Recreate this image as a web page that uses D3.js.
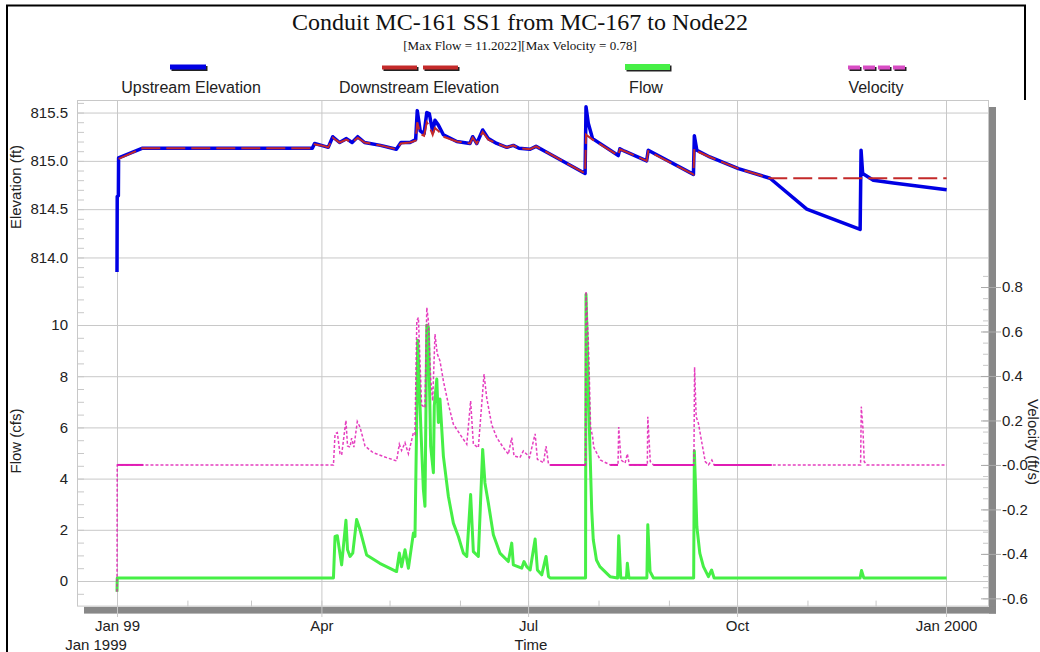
<!DOCTYPE html>
<html><head><meta charset="utf-8">
<script src="https://cdn.jsdelivr.net/npm/d3@7"></script>
<style>
html,body{margin:0;padding:0;background:#fff;}
svg{display:block;}
.tick text{font-family:"Liberation Sans",Arial,sans-serif;font-size:15px;fill:#222;}
</style></head>
<body><svg id="c" width="1040" height="652"></svg>
<script>
// ---------- DATA ----------
const chartTitle = "Conduit MC-161 SS1 from MC-167 to Node22";
const chartSubtitle = "[Max Flow = 11.2022][Max Velocity = 0.78]";
const seriesNames = ["Upstream Elevation", "Downstream Elevation", "Flow", "Velocity"];
const startDate = [1999, 0, 1];

// [day since Jan 1 1999, value]
const upstreamElev = [[0,813.85],[0.1,814.63],[0.6,814.64],[0.7,815.03],[11,815.13],[86,815.13],[87,815.18],[90,815.16],[93,815.14],[95,815.25],[98,815.19],[101,815.23],[103.5,815.19],[106,815.25],[109,815.19],[116,815.16],[123,815.12],[125,815.19],[129,815.19],[131.5,815.22],[132.2,815.52],[133.5,815.31],[135.2,815.28],[136.4,815.5],[137.5,815.49],[139,815.3],[140,815.42],[141.5,815.37],[143.7,815.27],[149.6,815.2],[155.4,815.18],[156.6,815.25],[158.4,815.18],[161,815.32],[163.5,815.23],[167.2,815.18],[171.6,815.14],[174.5,815.16],[177,815.13],[181.9,815.12],[184.5,815.15],[189.2,815.09],[206.1,814.87],[206.5,815.56],[207.5,815.39],[209.4,815.23],[220.7,815.055],[221.4,815.125],[223.5,815.1],[233.2,815.0],[233.9,815.11],[253.8,814.86],[254.2,815.26],[255.3,815.11],[261,815.04],[273.6,814.92],[287.5,814.82],[303.7,814.5],[306,814.48],[327.2,814.29],[327.6,815.11],[328.3,814.87],[333,814.8],[341.8,814.77],[365.3,814.7]];

const downstreamElev = [[0.7,815.02],[11,815.13],[86,815.13],[87,815.17],[90,815.16],[93,815.14],[95,815.24],[98,815.19],[101,815.22],[103.5,815.19],[106,815.24],[109,815.19],[116,815.16],[123,815.12],[125,815.18],[129,815.19],[131.5,815.21],[132.2,815.4],[133.5,815.28],[135.2,815.26],[136.4,815.4],[137.5,815.36],[139,815.27],[140,815.34],[141.5,815.31],[143.7,815.25],[149.6,815.2],[155.4,815.18],[156.6,815.24],[158.4,815.18],[161,815.3],[163.5,815.22],[167.2,815.18],[171.6,815.14],[174.5,815.16],[177,815.13],[181.9,815.12],[184.5,815.15],[189.2,815.09],[206.1,814.87],[206.5,815.27],[209.4,815.22],[220.7,815.055],[221.4,815.12],[223.5,815.1],[233.2,815.0],[233.9,815.1],[253.8,814.86],[254.2,815.13],[255.3,815.1],[261,815.04],[273.6,814.92],[287.5,814.82],[365.3,814.82]];

const flowCfs = [[0,-0.42],[0.1,0.12],[95.3,0.12],[96,1.74],[97,1.77],[98.9,0.63],[100.8,2.37],[101.5,1.22],[102.6,0.96],[103.8,1.09],[105.5,2.4],[107,2.0],[109.9,1.02],[115.7,0.69],[123.1,0.37],[124.3,1.09],[125.3,0.56],[126.8,1.22],[128.3,0.5],[130.5,1.87],[131.2,1.74],[132.0,6.58],[132.4,9.4],[133.8,5.93],[134.9,3.57],[135.6,2.92],[136.4,9.99],[137.1,9.92],[138.1,5.27],[139.3,4.23],[139.7,6.85],[140.8,7.89],[141.5,6.19],[142.2,7.11],[143.7,4.88],[145.9,3.31],[148.1,2.26],[150.3,1.74],[152.5,1.09],[154.0,0.96],[155.7,3.38],[156.9,1.15],[159.1,0.96],[161.0,5.14],[162.0,3.83],[163.5,3.05],[165.7,1.81],[168.6,1.09],[172.3,0.76],[173.8,1.48],[174.5,0.63],[178.2,0.5],[179.2,0.76],[180.4,0.56],[181.9,0.43],[184.1,1.64],[185.1,0.43],[187.0,0.24],[188.9,0.96],[190.0,0.17],[190.7,0.12],[206.3,0.12],[206.5,11.2],[208.0,5.93],[209.0,2.79],[209.7,1.61],[210.4,1.22],[211.1,0.82],[212.6,0.56],[217.1,0.17],[220.4,0.12],[220.9,1.77],[221.8,0.12],[224.3,0.12],[224.7,0.69],[225.4,0.12],[233.3,0.12],[233.7,2.2],[234.7,0.37],[236.2,0.12],[253.9,0.12],[254.2,5.08],[255.3,2.13],[256.6,1.09],[258.2,0.56],[260.4,0.17],[261.8,0.43],[262.9,0.12],[327.2,0.12],[327.8,0.41],[328.8,0.12],[365.3,0.12]];

const velocityFps = [[0,-0.57],[0.1,0],[11.6,0],[95.3,0],[96,0.14],[97,0.145],[98.2,0.05],[98.9,0.045],[100.8,0.2],[101.5,0.085],[102.6,0.08],[103.3,0.12],[104.3,0.08],[105.8,0.195],[107,0.17],[109.2,0.085],[112.8,0.055],[118.7,0.033],[123.1,0.018],[124.3,0.093],[125.3,0.065],[126.8,0.1],[128.3,0.05],[130.5,0.145],[131.2,0.138],[132.0,0.648],[132.7,0.663],[134.1,0.27],[135.6,0.258],[136.4,0.708],[137.1,0.648],[138.1,0.39],[139.0,0.288],[140.0,0.588],[141.0,0.5],[142.2,0.468],[143.7,0.378],[145.9,0.273],[148.1,0.183],[151.0,0.138],[154.0,0.093],[155.7,0.288],[156.9,0.093],[159.1,0.078],[161.6,0.408],[162.8,0.3],[165.0,0.18],[167.2,0.123],[170.1,0.078],[172.3,0.048],[173.8,0.123],[174.8,0.04],[177.4,0.033],[178.9,0.063],[180.4,0.048],[181.6,0.033],[184.1,0.14],[185.1,0.025],[187.8,0.01],[188.9,0.085],[190.0,0.003],[190.7,0],[206.3,0],[206.5,0.78],[207.5,0.56],[208.0,0.38],[208.5,0.17],[209.4,0.127],[209.9,0.08],[212.8,0.022],[217.2,0],[220.6,0],[220.9,0.17],[221.9,0.022],[223.7,0.008],[224.7,0.05],[225.6,0],[233.5,0],[233.7,0.217],[234.8,0.015],[236.2,0],[254.0,0],[254.3,0.44],[255.0,0.217],[256.0,0.187],[257.5,0.1],[259.0,0.015],[260.4,0],[261.9,0.022],[262.9,0],[327.4,0],[327.7,0.262],[328.4,0.17],[329.0,0.015],[330.2,0],[365.3,0]];

// day ranges where the velocity trace is drawn solid
const velocitySolidRanges = [[0.1,11.6],[190.7,206.3],[217.2,220.6],[225.6,233.5],[236.2,254.0],[262.9,288.3]];

const elevTicks = [814.0, 814.5, 815.0, 815.5];
const flowTicks = [0, 2, 4, 6, 8, 10];
const velTicks = [-0.6, -0.4, -0.2, 0, 0.2, 0.4, 0.6, 0.8];
const velTickLabels = ["-0.6", "-0.4", "-0.2", "-0.0", "0.2", "0.4", "0.6", "0.8"];
const xTickDates = [[1999,0,1],[1999,3,1],[1999,6,1],[1999,9,1],[2000,0,1]];
const xTickLabels = ["Jan 99", "Apr", "Jul", "Oct", "Jan 2000"];

// ---------- LAYOUT ----------
const L = 77, R = 989, T = 100, B = 606.6, SPLIT = 282, SH = 7;
const sans = '"Liberation Sans", Arial, sans-serif';
const serif = '"Liberation Serif", "Times New Roman", serif';
const C = {up:"#0000e4", down:"#c42a2a", flow:"#46ef46", vel:"#e01cb4", grid:"#c8c8c8"};

const svg = d3.select("#c");
const d0 = new Date(Date.UTC(...startDate));
const toDate = d => new Date(d0.getTime() + d*864e5);
const x = d3.scaleUtc().domain([d0, new Date(Date.UTC(2000,0,1))]).range([117, 946]);
const yE = d3.scaleLinear().domain([813.746, 815.63]).range([SPLIT, T]);
const yF = d3.scaleLinear().domain([-1, 11.68]).range([B, SPLIT]);
const yV = d3.scaleLinear().domain([-0.637, 0.85]).range([B, 275.9]);

// frame
svg.append("path").attr("d", `M7,652 L7,5.5 L1025,5.5 L1025,100`).attr("fill","none").attr("stroke","#000").attr("stroke-width",2);

// titles
svg.append("text").attr("x",520).attr("y",30).attr("text-anchor","middle")
  .style("font-family",serif).style("font-size","24px").attr("fill","#111").text(chartTitle);
svg.append("text").attr("x",520).attr("y",50).attr("text-anchor","middle")
  .style("font-family",serif).style("font-size","13px").attr("fill","#111").text(chartSubtitle);

// legend
const legX = [191, 419, 646, 876];
const lg = svg.append("g");
function bar(x0, w, h, col, y0){
  lg.append("rect").attr("x",x0+1.5).attr("y",y0+1.5).attr("width",w).attr("height",h).attr("fill","#222");
  lg.append("rect").attr("x",x0).attr("y",y0).attr("width",w).attr("height",h).attr("fill",col);
}
bar(170, 36, 5, C.up, 64.5);
bar(382, 35, 4, C.down, 65.5); bar(423, 35, 4, C.down, 65.5);
bar(625, 45, 6, C.flow, 64);
[848, 863, 878, 893].forEach(v => bar(v, 12, 4, "#d84cc4", 65.5));
seriesNames.forEach((n,i) => lg.append("text").attr("x",legX[i]).attr("y",93).attr("text-anchor","middle")
  .style("font-family",sans).style("font-size","16px").attr("fill","#222").text(n));

// plot shadow + background
svg.append("rect").attr("x",R).attr("y",T+SH).attr("width",SH).attr("height",B-T).attr("fill","#888");
svg.append("rect").attr("x",L+SH).attr("y",B).attr("width",R-L).attr("height",SH).attr("fill","#888");
svg.append("rect").attr("x",L).attr("y",T).attr("width",R-L).attr("height",B-T).attr("fill","#fff");

function styleAxis(g){ g.select(".domain").remove(); g.selectAll(".tick line").attr("stroke",C.grid); }

// horizontal gridlines
svg.append("g").attr("transform",`translate(${L},0)`)
  .call(d3.axisRight(yE).tickValues(elevTicks).tickSize(R-L).tickFormat("")).call(styleAxis);
svg.append("g").attr("transform",`translate(${L},0)`)
  .call(d3.axisRight(yF).tickValues(flowTicks).tickSize(R-L).tickFormat("")).call(styleAxis);
// vertical gridlines
svg.append("g").attr("transform",`translate(0,${T})`)
  .call(d3.axisBottom(x).tickValues(xTickDates.map(d=>new Date(Date.UTC(...d)))).tickSize(617-T).tickFormat("")).call(styleAxis);

// plot border
svg.append("rect").attr("x",L+0.5).attr("y",T+0.5).attr("width",R-L-1).attr("height",B-T-1)
  .attr("fill","none").attr("stroke",C.grid);

// minor ticks
const elevMinor = d3.range(8138, 8157).map(v=>v/10);
const flowMinor = d3.range(-1, 24).map(v=>v/2).filter(v=>v>-1 && v<11.68);
const velMinor = d3.range(-12, 18).map(v=>v/20);
svg.append("g").attr("transform",`translate(${L},0)`)
  .call(d3.axisRight(yE).tickValues(elevMinor).tickSize(7).tickFormat("")).call(styleAxis);
svg.append("g").attr("transform",`translate(${L},0)`)
  .call(d3.axisRight(yF).tickValues(flowMinor).tickSize(7).tickFormat("")).call(styleAxis);
svg.append("g").attr("transform",`translate(${R},0)`)
  .call(d3.axisLeft(yV).tickValues(velMinor).tickSize(6).tickFormat("")).call(styleAxis);
const monthTicks = d3.utcMonth.range(new Date(Date.UTC(1999,0,1)), new Date(Date.UTC(2000,0,2)));
svg.append("g").attr("transform",`translate(0,${B})`)
  .call(d3.axisTop(x).tickValues(monthTicks).tickSize(6).tickFormat("")).call(styleAxis);

// data lines
const lineOf = (y) => d3.line().x(d=>x(toDate(d[0]))).y(d=>y(d[1]));
svg.append("path").datum(upstreamElev).attr("d",lineOf(yE)).attr("fill","none")
  .attr("stroke",C.up).attr("stroke-width",3.5).attr("stroke-linejoin","round");
svg.append("path").datum(downstreamElev).attr("d",lineOf(yE)).attr("fill","none")
  .attr("stroke",C.down).attr("stroke-width",2).attr("stroke-dasharray","19,6");
svg.append("path").datum(flowCfs).attr("d",lineOf(yF)).attr("fill","none")
  .attr("stroke",C.flow).attr("stroke-width",3).attr("stroke-linejoin","round");
svg.append("path").datum(velocityFps).attr("d",lineOf(yV)).attr("fill","none")
  .attr("stroke",C.vel).attr("stroke-width",1.5).attr("stroke-dasharray","3,2").attr("opacity",0.85);
velocitySolidRanges.forEach(r => {
  const seg = velocityFps.filter(d => d[0] >= r[0] && d[0] <= r[1]);
  if (seg.length < 2) seg.push([r[1], 0]);
  svg.append("path").datum(seg).attr("d",lineOf(yV)).attr("fill","none")
    .attr("stroke",C.vel).attr("stroke-width",2);
});

// axis labels
svg.append("g").attr("transform",`translate(${L},0)`)
  .call(d3.axisLeft(yE).tickValues(elevTicks).tickSize(0).tickPadding(9).tickFormat(d3.format(".1f")))
  .call(g=>g.select(".domain").remove());
svg.append("g").attr("transform",`translate(${L},0)`)
  .call(d3.axisLeft(yF).tickValues(flowTicks).tickSize(0).tickPadding(9).tickFormat(d3.format("d")))
  .call(g=>g.select(".domain").remove());
svg.append("g").attr("transform",`translate(${R-8},0)`)
  .call(d3.axisRight(yV).tickValues(velTicks).tickSize(20).tickPadding(1).tickFormat((d,i)=>velTickLabels[i]))
  .call(g=>{g.select(".domain").remove(); g.selectAll(".tick line").attr("stroke","#aaa");});
svg.append("g").attr("transform",`translate(0,${B})`)
  .call(d3.axisBottom(x).tickValues(xTickDates.map(d=>new Date(Date.UTC(...d)))).tickSize(0).tickPadding(14)
    .tickFormat((d,i)=>xTickLabels[i]))
  .call(g=>g.select(".domain").remove());

const axTitle = (t, tx, ty, rot) => svg.append("text").attr("transform",`translate(${tx},${ty}) rotate(${rot})`)
  .attr("text-anchor","middle").style("font-family",sans).style("font-size","15px").attr("fill","#222").text(t);
axTitle("Elevation (ft)", 21, 187, -90);
axTitle("Flow (cfs)", 21, 441, -90);
axTitle("Velocity (ft/s)", 1027.5, 442, 90);
svg.append("text").attr("x",96).attr("y",650).attr("text-anchor","middle").style("font-family",sans).style("font-size","15px").attr("fill","#222").text("Jan 1999");
svg.append("text").attr("x",531).attr("y",650).attr("text-anchor","middle").style("font-family",sans).style("font-size","15px").attr("fill","#222").text("Time");
</script></body></html>
